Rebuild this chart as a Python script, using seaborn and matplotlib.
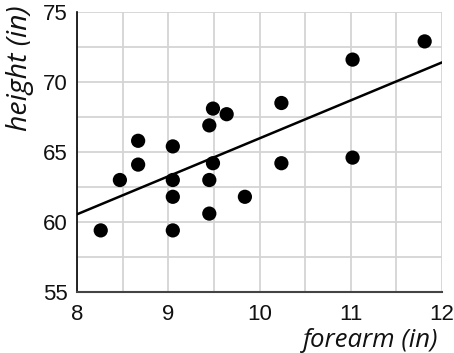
import matplotlib
matplotlib.use("Agg")
import matplotlib.pyplot as plt
import seaborn as sns
import pandas as pd
from matplotlib.ticker import MultipleLocator

# Data
forearm = [8.26, 8.47, 8.67, 8.67, 9.05, 9.05, 9.05, 9.05, 9.45, 9.49,
           9.45, 9.49, 9.45, 9.64, 9.84, 10.24, 10.24, 11.02, 11.02, 11.81]
height = [59.4, 63.0, 65.8, 64.1, 65.4, 63.0, 61.8, 59.4, 66.9, 68.1,
          63.0, 64.2, 60.6, 67.7, 61.8, 68.5, 64.2, 71.6, 64.6, 72.9]
fit_x = [8, 12]
fit_y = [60.55, 71.4]
x_ticks = [8, 9, 10, 11, 12]
y_ticks = [55, 60, 65, 70, 75]

sns.set_style("white")
plt.rcParams['font.family'] = ['Liberation Sans', 'DejaVu Sans']

df = pd.DataFrame({"forearm": forearm, "height": height})
fit = pd.DataFrame({"x": fit_x, "y": fit_y})

fig = plt.figure(figsize=(4.54, 3.53), dpi=100)
ax = fig.add_axes([77/454, 1-292/353, (442-77)/454, (292-12)/353])

ax.set_xlim(8, 12)
ax.set_ylim(55, 75)
ax.xaxis.set_major_locator(MultipleLocator(1))
ax.xaxis.set_minor_locator(MultipleLocator(0.5))
ax.yaxis.set_major_locator(MultipleLocator(5))
ax.yaxis.set_minor_locator(MultipleLocator(2.5))
ax.set_xticks(x_ticks)
ax.set_yticks(y_ticks)
ax.grid(True, which='both', color='#d4d4d4', linewidth=1.3, zorder=0)
ax.set_axisbelow(True)

sns.lineplot(data=fit, x="x", y="y", ax=ax, color='black', linewidth=1.8, zorder=3)
sns.scatterplot(data=df, x="forearm", y="height", ax=ax, color='black', s=105,
                edgecolor='none', zorder=4, clip_on=False)

for s in ['top', 'right']:
    ax.spines[s].set_visible(False)
ax.spines['left'].set_color('black')
ax.spines['left'].set_linewidth(1.2)
ax.spines['bottom'].set_color('#444444')
ax.spines['bottom'].set_linewidth(1.5)

ax.tick_params(axis='both', which='major', direction='inout', length=11, width=1.1,
               color='#222222', labelsize=16, labelcolor='#111111', pad=1)
ax.tick_params(axis='both', which='minor', direction='inout', length=6, width=1.1,
               color='#222222')
ax.tick_params(axis='x', which='major', pad=3)

ax.set_xlabel("")
ax.set_ylabel("")
fig.text(438/454, 1-347/353, "forearm (in)", ha='right', va='baseline',
         fontsize=18.5, style='italic', family=['Open Sans', 'DejaVu Sans'], color='#111111')
fig.text(20/454, 1-5/353, "height (in)", ha='center', va='top', rotation=90,
         fontsize=20.5, style='italic', family=['Open Sans', 'DejaVu Sans'], color='#111111')

fig.savefig("out.png", dpi=100)
